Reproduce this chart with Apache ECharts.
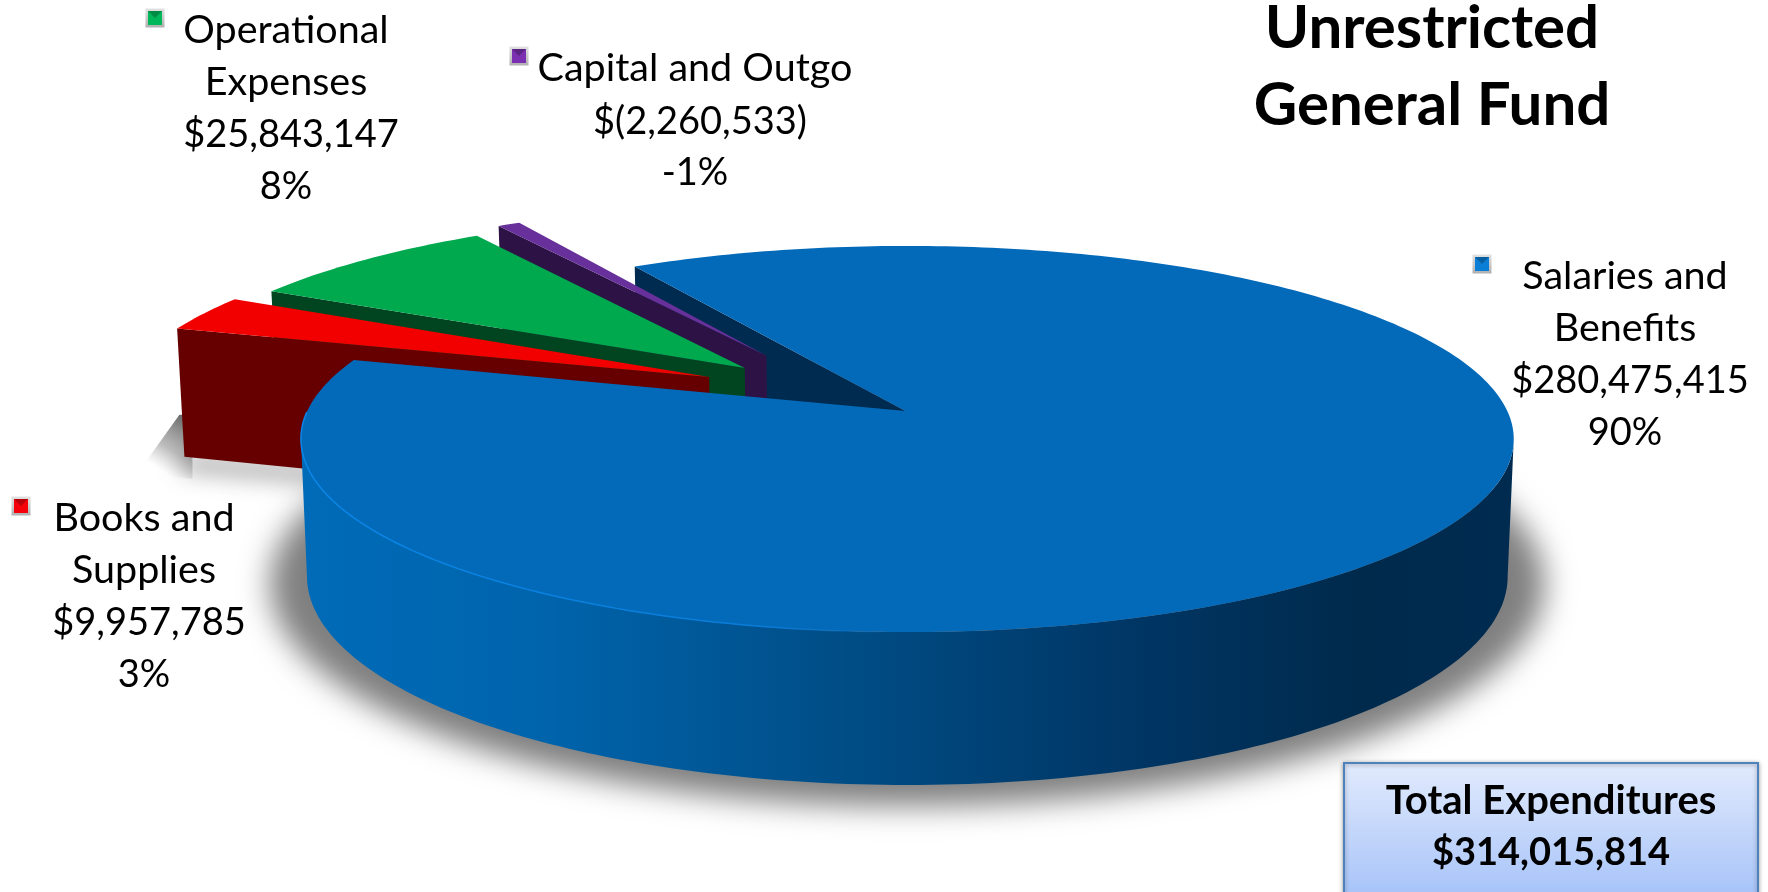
<!DOCTYPE html>
<html>
<head>
<meta charset="utf-8">
<title>Unrestricted General Fund</title>
<script src="https://cdn.jsdelivr.net/npm/echarts@6/dist/echarts.min.js"></script>
<style>
html,body{margin:0;padding:0;background:#fff;overflow:hidden}
#chart{width:1768px;height:892px}
</style>
</head>
<body>
<div id="chart"></div>
<script>
// Expenditure categories, clockwise from the first slice
const categories = ['Salaries and Benefits', 'Books and Supplies', 'Operational Expenses', 'Capital and Outgo'];
const amounts = [280475415, 9957785, 25843147, -2260533];
const percentLabels = ['90%', '3%', '8%', '-1%'];
const titleLines = ['Unrestricted', 'General Fund'];
const totalLabel = 'Total Expenditures';

// Slice appearance
const topColors = ['#0369b9', '#f20000', '#00a84e', '#68309a'];
const wallColors = ['#002b50', '#660000', '#00451f', '#2d1245'];
const keyColors = ['#0b7fd6', '#f5000a', '#00b85a', '#7a30b0'];
// Explosion of each slice in disc units (right, towards the viewer)
const explode = [[0.003, 0], [-0.336, -0.185], [-0.277, -0.235], [-0.242, -0.305]];
// Paint order of the slices, back to front
const paintOrder = [3, 2, 1];
const firstSliceAngle = 329.3;

// Perspective camera for the tilted disc
const CX = 905.5, CY = 411, RX = 600, RY = 189, K = 0.145, DEPTH = 135, K2 = 0.117;
function project(u, v, w) {
  const d = 1 - K * v;
  return [CX + RX * u * (1 - 0.01 * w) / d, CY + RY * v / d + w * DEPTH / (1 - K2 * v)];
}
function rimPoint(deg, w, off, r) {
  const a = deg * Math.PI / 180, R = r || 1;
  return project(R * Math.sin(a) + off[0], -R * Math.cos(a) + off[1], w);
}
function arc(from, to, w, off, r) {
  const pts = [], n = Math.max(2, Math.ceil(Math.abs(to - from)));
  for (let i = 0; i <= n; i++) pts.push(rimPoint(from + (to - from) * i / n, w, off, r));
  return pts;
}
const absSum = amounts.reduce((s, x) => s + Math.abs(x), 0);
const sweeps = amounts.map(x => Math.abs(x) / absSum * 360);
const total = amounts.reduce((s, x) => s + x, 0);

function money(x) {
  const s = Math.abs(x).toLocaleString('en-US');
  return x < 0 ? '$(' + s + ')' : '$' + s;
}

// Label blocks: horizontal centre, first line centre, legend key centre
const labelLayout = [
  { lines: ['Salaries and', 'Benefits'], x: 1625, y: 278, key: [1482, 264] },
  { lines: ['Books and', 'Supplies'], x: 144, y: 520, key: [21, 506] },
  { lines: ['Operational', 'Expenses'], x: 286, y: 32, key: [155, 18] },
  { lines: ['Capital and Outgo'], x: 695, y: 70, key: [519, 56] }
];
const LINE = 51.5;
const MONEY_SHIFT = 5;
const FONT = 'Lato, Carlito, Calibri, "Open Sans", sans-serif';

function poly(points, fill, z2, extra) {
  return { type: 'polygon', z2, shape: { points }, style: Object.assign({ fill }, extra || {}), silent: true };
}

// A shadow with no visible caster: the shape sits left of the canvas and only its shadow lands on it
const SHADOW_SHIFT = 3000;
function castShadow(points, blur, alpha, dy) {
  return poly(points.map(p => [p[0] - SHADOW_SHIFT, p[1]]), '#000', 0,
    { shadowBlur: blur, shadowColor: 'rgba(0,0,0,' + alpha + ')', shadowOffsetX: SHADOW_SHIFT, shadowOffsetY: dy });
}

function legendKey(c, color) {
  const s = 19, x = c[0] - s / 2, y = c[1] - s / 2, b = 2.5;
  return [
    { type: 'rect', z2: 30, shape: { x, y, width: s, height: s },
      style: { fill: new echarts.graphic.LinearGradient(0, 0, 0, 1, [{ offset: 0, color: '#e2e2e2' }, { offset: 1, color: '#b0b0b0' }]) } },
    { type: 'rect', z2: 31, shape: { x: x + b, y: y + b, width: s - 2 * b, height: s - 2 * b }, style: { fill: color } },
    { type: 'polygon', z2: 32, shape: { points: [[x + b, y + b], [x + s - b, y + b], [x + s / 2, y + s / 2]] },
      style: { fill: 'rgba(0,0,0,0.25)' } }
  ];
}

function renderSlice(params, api) {
  const i = params.dataIndex;
  const sweep = Math.abs(api.value(0)) / absSum * 360;
  let start = firstSliceAngle;
  for (let j = 0; j < i; j++) start += sweeps[j];
  const end = start + sweep;
  const off = explode[i];
  const kids = [];

  if (i === 0) {
    // Large slice: shadow, the wall facing the gap, the front wall and the top
    const leftEdge = 270 - Math.asin(K) * 180 / Math.PI;
    const rightEdge = 90 + Math.asin(K) * 180 / Math.PI;
    kids.push(castShadow(arc(0, 360, 1, off, 1.06), 30, 0.5, 4));
    kids.push(poly([project(0, 0, 0), rimPoint(start, 0, off), rimPoint(start, 1, off), project(0, 0, 1)], wallColors[0], 1));
    const wall = arc(rightEdge, leftEdge, 0, off).concat(arc(leftEdge, rightEdge, 1, off));
    kids.push(poly(wall, new echarts.graphic.LinearGradient(0, 0, 1, 0, [
      { offset: 0, color: '#006bb8' }, { offset: 0.2, color: '#0064ac' }, { offset: 0.45, color: '#004d86' },
      { offset: 0.7, color: '#003563' }, { offset: 0.87, color: '#002a4c' }, { offset: 1, color: '#002b50' }
    ], false), 8));
    kids.push(poly([project(0, 0, 0)].concat(arc(start, end, 0, off)), topColors[0], 9));
    kids.push({ type: 'polyline', z2: 10, silent: true, shape: { points: arc(leftEdge + 8, 182, 0, off) },
      style: { fill: null, lineWidth: 1.5, stroke: new echarts.graphic.LinearGradient(0, 0, 1, 0, [
        { offset: 0, color: '#0a86e8' }, { offset: 0.8, color: '#0a7cd8' }, { offset: 1, color: 'rgba(10,124,216,0)' }
      ], false) } });
  } else {
    // Exploded slice: only the radial wall on the viewer's side shows
    const base = 2 + 2 * paintOrder.indexOf(i);
    const apexTop = project(off[0], off[1], 0), apexBottom = project(off[0], off[1], 1);
    kids.push(poly([apexTop, rimPoint(start, 0, off), rimPoint(start, 1, off), apexBottom], wallColors[i], base));
    kids.push(poly([apexTop].concat(arc(start, end, 0, off)), topColors[i], base + 1));
    if (i === 1) {
      // Soft shadow cast under the red wall, with its hard left edge
      const c = rimPoint(start, 1, off);
      kids.push(castShadow([[c[0] - 2, c[1] - 6], [c[0] + 160, c[1] + 8], [c[0] + 160, c[1] + 16], [c[0] - 2, c[1] + 2]], 24, 0.72, 8));
      kids.push(poly([[c[0] - 5, c[1] - 42], [c[0] - 48, c[1] + 18], [c[0] + 8, c[1] + 22], [c[0] + 8, c[1] - 42]],
        new echarts.graphic.LinearGradient(1, 0, 0.3, 1, [
          { offset: 0, color: 'rgba(70,70,70,0.9)' }, { offset: 0.55, color: 'rgba(110,110,110,0.45)' }, { offset: 0.85, color: 'rgba(150,150,150,0)' }
        ]), 0));
    }
  }

  // Label and legend key
  const lay = labelLayout[i];
  const count = lay.lines.length;
  lay.lines.concat([money(api.value(0)), percentLabels[i]]).forEach((t, n) => kids.push({
    type: 'text', z2: 40, silent: true,
    style: { text: t, x: lay.x + (n === count ? MONEY_SHIFT : 0), y: lay.y + n * LINE - (n < count ? 1.5 : 0), align: 'center', verticalAlign: 'middle',
      fill: '#000', font: (n < count ? '39.5px ' : '38px ') + FONT }
  }));
  legendKey(lay.key, keyColors[i]).forEach(k => kids.push(k));
  return { type: 'group', children: kids };
}

const chart = echarts.init(document.getElementById('chart'), null, { renderer: 'canvas' });
chart.setOption({
  animation: false,
  backgroundColor: '#ffffff',
  graphic: { elements: [
    { type: 'text', z: 20, style: { text: titleLines.join('\n'), x: 1432, y: 67, align: 'center', verticalAlign: 'middle',
        lineHeight: 77, fill: '#000', font: 'bold 60px ' + FONT } },
    { type: 'rect', z: 20, shape: { x: 1344, y: 763, width: 414, height: 140 },
      style: { fill: new echarts.graphic.LinearGradient(0, 0, 0, 1, [{ offset: 0, color: '#e2ebfd' }, { offset: 1, color: '#a3c1f8' }]),
        stroke: '#4f81bd', lineWidth: 2, shadowBlur: 4, shadowColor: 'rgba(0,0,0,0.35)', shadowOffsetY: 1 } },
    { type: 'text', z: 21, style: { text: totalLabel, x: 1551, y: 801, align: 'center', verticalAlign: 'middle', fill: '#000', font: 'bold 40px ' + FONT } },
    { type: 'text', z: 21, style: { text: money(total), x: 1551, y: 853, align: 'center', verticalAlign: 'middle', fill: '#000', font: 'bold 38px ' + FONT } }
  ] },
  series: [{
    type: 'custom',
    coordinateSystem: 'none',
    renderItem: renderSlice,
    encode: { value: 0 },
    data: amounts.map((v, i) => ({ name: categories[i], value: [v] }))
  }]
});
</script>
</body>
</html>
